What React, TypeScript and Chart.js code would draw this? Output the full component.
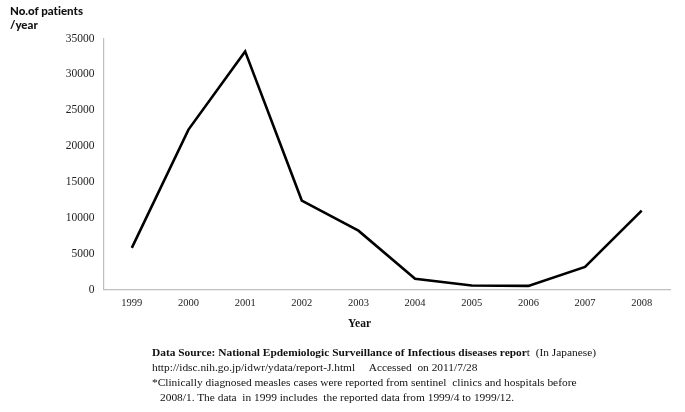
import React, { useEffect, useRef } from "react";
import { Chart, registerables } from "chart.js";

Chart.register(...registerables);

const years = ["1999", "2000", "2001", "2002", "2003", "2004", "2005", "2006", "2007", "2008"];
const patients = [5800, 22300, 33200, 12400, 8200, 1500, 550, 500, 3150, 11000];
const yTicks = [0, 5000, 10000, 15000, 20000, 25000, 30000, 35000];

const serif = "'Liberation Serif', 'Times New Roman', serif";
const sans = "Lato, 'Liberation Sans', Arial, sans-serif";

export default function App() {
  const ref = useRef<HTMLCanvasElement | null>(null);

  useEffect(() => {
    document.body.style.margin = "0";
    const ctx = ref.current!;
    const chart = new Chart(ctx, {
      type: "line",
      data: {
        labels: years,
        datasets: [
          {
            data: patients,
            borderColor: "#000000",
            borderWidth: 2.6,
            pointRadius: 0,
            tension: 0,
            fill: false,
          },
        ],
      },
      options: {
        animation: false,
        responsive: false,
        maintainAspectRatio: false,
        layout: { padding: { top: 38.5, right: 15, left: 0, bottom: 0 } },
        plugins: { legend: { display: false }, tooltip: { enabled: false } },
        scales: {
          x: {
            type: "category",
            offset: true,
            grid: { display: false, drawTicks: false },
            border: { display: true, color: "#bfbfbf", width: 1.2 },
            ticks: {
              color: "#222",
              padding: 7,
              maxRotation: 0,
              font: { family: serif, size: 10.5 },
            },
            afterFit: (s: any) => {
              s.height = 412 - 289.5;
            },
          },
          y: {
            min: 0,
            max: 35000,
            afterBuildTicks: (s: any) => {
              s.ticks = yTicks.map((v) => ({ value: v }));
            },
            grid: { display: false, drawTicks: false },
            border: { display: true, color: "#bfbfbf", width: 1.2 },
            ticks: {
              color: "#222",
              padding: 9,
              font: { family: serif, size: 11.5 },
              callback: (v: any) => String(v),
            },
            afterFit: (s: any) => {
              s.width = 103.5;
            },
          },
        },
      },
    });
    return () => chart.destroy();
  }, []);

  const line: React.CSSProperties = {
    position: "absolute",
    left: 152,
    fontFamily: serif,
    fontSize: 11.4,
    color: "#111",
    whiteSpace: "pre",
    lineHeight: "15px",
  };

  return (
    <div style={{ position: "relative", width: 685, height: 412, background: "#fff", overflow: "hidden" }}>
      <canvas ref={ref} width={685} height={412} style={{ position: "absolute", left: 0, top: 0 }} />
      <div
        style={{
          position: "absolute",
          left: 10,
          top: 4,
          fontFamily: sans,
          fontWeight: 900,
          fontSize: 11.5,
          lineHeight: "14px",
          color: "#111",
          fontVariantLigatures: "none",
        }}
      >
        No.of patients
        <br />
        /year
      </div>
      <div
        style={{
          position: "absolute",
          left: 348,
          top: 317,
          fontFamily: serif,
          fontWeight: "bold",
          fontSize: 11.5,
          color: "#111",
        }}
      >
        Year
      </div>
      <div style={{ ...line, top: 345 }}>
        <b>Data Source: National Epdemiologic Surveillance of Infectious diseases repor</b>t  (In Japanese)
      </div>
      <div style={{ ...line, top: 360 }}>{"http://idsc.nih.go.jp/idwr/ydata/report-J.html     Accessed  on 2011/7/28"}</div>
      <div style={{ ...line, top: 375 }}>{"*Clinically diagnosed measles cases were reported from sentinel  clinics and hospitals before"}</div>
      <div style={{ ...line, top: 390, left: 160 }}>{"2008/1. The data  in 1999 includes  the reported data from 1999/4 to 1999/12."}</div>
    </div>
  );
}
